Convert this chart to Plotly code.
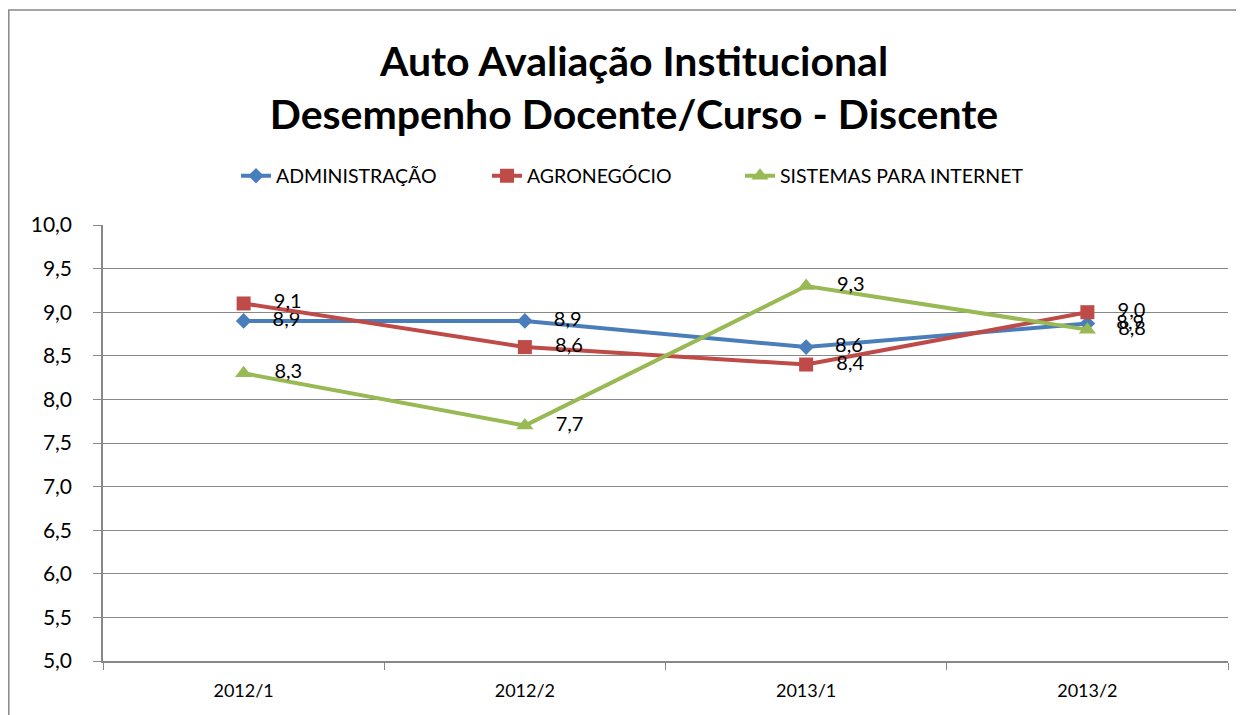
import plotly.graph_objects as go

categories = ["2012/1", "2012/2", "2013/1", "2013/2"]
administracao = [8.9, 8.9, 8.6, 8.87]
agronegocio = [9.1, 8.6, 8.4, 9.0]
sistemas = [8.3, 7.7, 9.3, 8.8]
y_ticks = [5.0, 5.5, 6.0, 6.5, 7.0, 7.5, 8.0, 8.5, 9.0, 9.5, 10.0]

FONT = "Lato, 'Open Sans', sans-serif"

fig = go.Figure()
series = [
    ("ADMINISTRAÇÃO", administracao, "#4A7EBB", "diamond", 12, "legend"),
    ("AGRONEGÓCIO", agronegocio, "#BE4B48", "square", 14, "legend"),
    ("SISTEMAS PARA INTERNET", sistemas, "#98B954", "triangle-up", 15, "legend2"),
]
for name, vals, color, sym, size, leg in series:
    fig.add_trace(go.Scatter(
        x=categories, y=vals, name=name, legend=leg,
        mode="lines+markers+text",
        line=dict(color=color, width=4),
        marker=dict(symbol=sym, size=size, color=color),
        texttemplate="    %{y:.1f}",
        textposition="middle right",
        textfont=dict(size=20, color="#000000", family=FONT),
        cliponaxis=False,
    ))

# page offset of 8px (body margin) compensated
OFF = 8
W, H = 1244, 715
L, R, T, B = 103 - OFF, 24, 225 - OFF, 62
pw, ph = W - L - R, H - T - B

leg_font = dict(size=19.5, family=FONT, color="#000000")
leg_y = 1 + (225 - 176) / ph

fig.update_layout(
    width=W, height=H,
    margin=dict(l=L, r=R, t=T, b=B, autoexpand=False),
    paper_bgcolor="white", plot_bgcolor="white",
    separators=",.",
    font=dict(family=FONT, color="#000000"),
    title=dict(
        text="<b>Auto Avaliação Institucional<br>Desempenho Docente/Curso - Discente</b>",
        x=(634 - OFF - L) / pw, xanchor="center", xref="paper",
        y=1 - 68 / H, yanchor="middle", yref="container",
        font=dict(size=41, family=FONT, color="#000000"),
    ),
    legend=dict(
        orientation="h", x=(236 - OFF - L) / pw, xanchor="left",
        y=leg_y, yanchor="middle", font=leg_font,
        tracegroupgap=0, entrywidth=206, entrywidthmode="pixels",
    ),
    legend2=dict(
        orientation="h", x=(740 - OFF - L) / pw, xanchor="left",
        y=leg_y, yanchor="middle", font=leg_font,
    ),
    showlegend=True,
    xaxis=dict(
        type="category", range=[-0.5, 3.5], automargin=False,
        showline=True, linecolor="#888888", linewidth=1.5,
        ticks="outside", tickson="boundaries", ticklen=7, tickcolor="#888888",
        showgrid=False, ticklabelstandoff=13,
        tickfont=dict(size=18, family=FONT, color="#000000"),
    ),
    yaxis=dict(
        range=[5.0, 10.0], tickvals=y_ticks, tickformat=".1f", automargin=False,
        showline=True, linecolor="#888888", linewidth=1.5,
        ticks="outside", ticklen=8, tickcolor="#888888",
        showgrid=True, gridcolor="#888888", gridwidth=1.3,
        zeroline=False, ticklabelstandoff=17,
        tickfont=dict(size=21, family=FONT, color="#000000"),
    ),
    shapes=[dict(
        type="rect", xref="paper", yref="paper",
        x0=(0.8 - L) / pw, x1=(W - 1 - L) / pw,
        y0=-(B + 20) / ph, y1=1 + (T - 2) / ph,
        line=dict(color="#888888", width=1.5), layer="below",
    )],
)

fig.write_html("out.html")
